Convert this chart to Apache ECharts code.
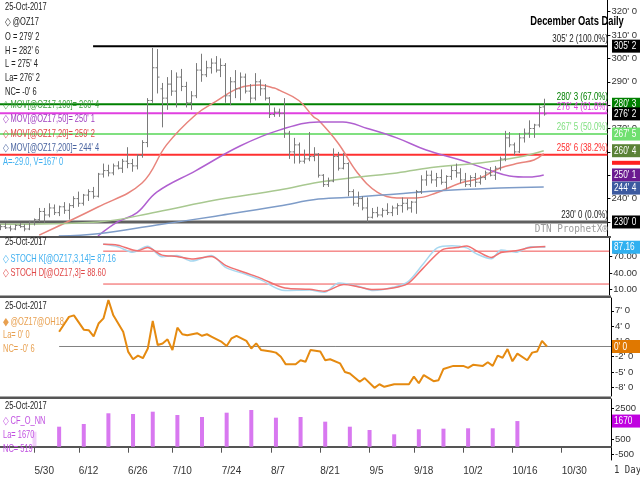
<!DOCTYPE html>
<html>
<head>
<meta charset="utf-8">
<script src="https://cdn.jsdelivr.net/npm/echarts@6/dist/echarts.min.js"></script>
<style>html,body{margin:0;padding:0;background:#fff}#main{width:640px;height:480px}</style>
</head>
<body>
<div id="main"></div>
<script>
// trading days, 5/18 onward (holidays skipped)
var holidays = ['5/29', '7/4', '9/4'];
var dates = [];
var d = new Date(2017, 4, 18);
while (dates.length < 125) {
    var s = (d.getMonth() + 1) + '/' + d.getDate();
    if (d.getDay() > 0 && d.getDay() < 6 && holidays.indexOf(s) < 0) dates.push(s);
    d.setDate(d.getDate() + 1);
}
var dateLabels = ['5/30', '6/12', '6/26', '7/10', '7/24', '8/7', '8/21', '9/5', '9/18', '10/2', '10/16', '10/30'];

// [open, high, low, close]
var priceBars = [
    [227.5,229,226.5,228],[228,229.5,227,227.5],[227.5,228.5,226,227],[227,229,226.5,228.5],
    [228.5,229.5,227.5,228],[228,229,226,227],[227,230.5,226.5,230],[230,231.5,228.5,231],
    [231,236,230,234.5],[234.5,236,229.5,233],[233,238,232,236],[236,237.5,233,234],
    [234,237,232.5,236.5],[236.5,238.5,233.5,235],[235,238,231,237],[237,241,236,240],
    [240,243,236.5,238],[238,242,237,241.5],[241.5,244,239,243],[243,245,240,241],
    [241,251,240.5,250.5],[250.5,255,249,252],[252,254.5,249.5,251],[251,255,250,254],
    [254,256,252.5,253],[253,257,251,256],[256,262,253,255],[255,257,251.5,254],
    [254,259,252.5,258.5],[258.5,265,257.5,264],[264,283,262,282],[282,304.5,281,296],
    [296,304,285,292],[287,289.5,270.5,283],[283,292,278,289],[289,295,284,286],
    [286,294,279,292],[292,295.5,286,288],[288,290,279,281],[281,286,278,284],
    [284,298,283,295],[295,302,290,293],[293,299,292,296],[296,300,293.5,298],
    [298,301,294,295],[295,300,292,297],[297,298,281,284],[284,292,280,290],
    [290,295,283,287],[287,294,282,292],[292,293.5,285,286],[286,289,281,283],
    [283,293.7,282,290],[290,291,284,287],[287,289,282,283],[283,283.5,274.5,276],
    [276,279,275,277],[277,278.5,275,276.5],[276.5,283,266,268],[268,269,257,260],
    [260,266,255,263],[263,264,255,256],[256,261,255,257],[257,268.5,256,258],
    [258,262,256,259],[259,259.5,249,250],[250,250.5,245,246],[246,249,245,247.5],
    [247.5,261.5,247,258],[258,260,252,253],[253,259.5,252.5,255],[255,255.5,241,243],
    [243,244,237,238],[238,243,236.5,240],[240,241,235,236],[236,240.5,230,232],
    [232,236,231.5,234],[234,236.5,232,233],[233,236,232,235],[235,238,233,234],
    [234,237,232.5,236],[236,238,233,237],[237,240.5,234,238],[238,240,235,236],
    [236,239,234,238.5],[238.5,243.7,233.5,243],[243,250,242,248],[248,252,245.5,250],
    [250,252,246.5,248],[248,251,245,249],[249,252.5,246,247],[247,250,244,249.5],
    [249.5,254,248,252],[252,255,249,251],[251,253,246.5,248],[248,251,245,246],
    [246,250,245,249],[249,251,245,247],[247,250,246,249],[249,252,248,251],
    [251,253.5,249.5,250],[250,254,248,253],[253,258,252,257],[257,269,256,266],
    [266,268.5,262,263],[263,264,258.5,260],[260,268,259.5,266],[266,270,264,268],
    [268,273.5,266,270],[270,272,266,271.5],[271.5,280,270.5,279],[279.25,282.75,275.5,276.25]
];

// moving averages: [day index, value]
var ma20 = [[8,224.4],[20,236.4],[29,246.7],[34,263],[40,276],[44,281.5],[49,287.5],[53,288.6],[56,287.3],[57,286.4],[61,282],[64,275],[65,273.6],[69,263.8],[73,251],[77,242.8],[81,240.3],[85,240.3],[89,242.4],[94,246.7],[98,248.8],[102,253],[106,255.2],[109,256.5],[111,259.25]];
var ma50 = [[20,224],[24,230],[28,234],[32,242.8],[40,252],[49,262.5],[57,269.3],[65,272.8],[70,272.8],[75,270],[81,266],[87,260.8],[94,256.5],[100,252.2],[104,249.7],[108,249.2],[111,250.1]];
var ma100 = [[0,229],[20,230],[32,234.3],[44,239.4],[57,243.7],[65,247],[73,249.2],[81,251],[89,253.5],[98,255.2],[106,257.8],[111,260.5]];
var ma200 = [[12,224],[20,225],[32,228.7],[44,232.5],[57,236.8],[65,239.8],[73,240.7],[81,242],[89,243.3],[102,244.5],[111,245]];

var stochK = [[21,93],[24,88],[27,78],[30,89],[33,70],[36,72],[39,62],[43,72],[46,50],[50,38],[53,28],[58,8],[63,9],[66,5],[69,22],[73,16],[76,8],[80,14],[83,24],[86,55],[89,86],[92,90],[95,86],[97,75],[100,66],[102,82],[105,78],[108,88],[111,87.16]];
var stochD = [[21,92.6],[24,90.8],[28,80.6],[30,86.5],[33,72.8],[36,70.3],[39,65.7],[43,70.3],[46,53.6],[50,40.5],[53,30.8],[58,12.9],[63,10.5],[66,7],[70,19],[73,14.7],[76,10],[80,12.9],[83,20.8],[86,47.7],[90,82.4],[93,86.5],[95,89.5],[97,80.6],[100,68.5],[102,77.5],[105,80.6],[108,86.5],[111,88.6]];

var spread = [[12,2.9],[14,5.8],[15,6.1],[17,3.3],[18,3.2],[19,2.0],[20,4.5],[21,5.5],[22,9.1],[23,6.1],[25,2.9],[26,-1.0],[27,-2.5],[28,-1.8],[29,-2.3],[30,-0.4],[31,5.0],[32,0.3],[33,0.6],[34,1.4],[35,-0.7],[36,3.7],[37,2.4],[38,2.2],[40,2.6],[41,2.1],[42,2.4],[43,1.9],[45,0.9],[46,0.1],[47,1.6],[48,2.1],[50,1.1],[51,-0.4],[52,0.6],[53,-0.7],[55,-1.0],[56,-1.2],[57,-2.0],[58,-3.5],[60,-3.5],[61,-2.7],[62,-3.0],[63,-0.7],[65,-1.0],[66,-2.7],[67,-2.5],[69,-3.3],[70,-5.0],[71,-5.3],[73,-6.9],[74,-6.2],[76,-8.1],[77,-7.4],[78,-7.9],[80,-7.4],[83,-7.4],[84,-5.9],[85,-7.2],[86,-5.6],[88,-6.8],[89,-6.6],[90,-4.4],[92,-3.8],[94,-3.8],[95,-4.2],[96,-3.6],[98,-3.8],[99,-3.1],[100,-3.8],[101,-1.8],[102,-2.2],[103,-0.5],[104,-2.9],[105,-1.4],[107,-2.7],[108,-1.2],[109,-1.0],[110,1.1],[111,0]];

var cot = [[7,977],[12,1303],[17,1479],[22,2176],[27,2130],[31,2280],[36,2065],[41,1935],[46,2215],[51,2390],[56,1890],[61,1935],[66,1630],[71,1303],[75,1088],[80,808],[85,1134],[90,1173],[95,1199],[100,1199],[105,1670]];

// fib retracement levels
var fibLevels = [305.25, 280.375, 276.5, 267.625, 258.75, 230];
var fibPct = ['100.0%', '67.0%', '61.8%', '50.0%', '38.2%', '0.0%'];
var fibColors = ['#000000', '#008000', '#e040e0', '#80e080', '#ff3030', '#606060'];

function eighths(v) {
    var neg = v < 0;
    v = Math.abs(v);
    var w = Math.floor(v + 1e-9);
    var e = Math.round((v - w) * 8);
    if (e === 8) { w += 1; e = 0; }
    return (neg ? '-' : '') + w + "' " + e;
}

var FONT = '"Liberation Sans"';
var chart = echarts.init(document.getElementById('main'));
var grids = [
    {left: 0, right: 29, top: 0, height: 236},
    {left: 0, right: 29, top: 238, height: 57},
    {left: 0, right: 29, top: 298, height: 98},
    {left: 0, right: 29, top: 399, height: 61}
];
var xAxes = grids.map(function (g, k) {
    var last = k === 3;
    return {
        type: 'category', gridIndex: k, data: dates, boundaryGap: false,
        axisLine: {show: last, lineStyle: {color: '#555', width: 2}},
        axisTick: {show: last, length: 6, lineStyle: {color: '#555'},
            interval: function (i, v) { return dateLabels.indexOf(v) >= 0; }},
        axisLabel: {show: last, align: 'left', margin: 6, color: '#333', fontFamily: FONT, fontSize: 10,
            interval: function (i, v) { return dateLabels.indexOf(v) >= 0; }},
        splitLine: {show: false}
    };
});
function yAx(k, min, max, vals, fmt) {
    return {
        type: 'value', gridIndex: k, position: 'right', min: min, max: max, scale: true,
        axisLine: {show: true, lineStyle: {color: '#000'}},
        axisTick: {show: true, length: 3, customValues: vals, lineStyle: {color: '#000'}},
        axisLabel: {customValues: vals, formatter: fmt, color: '#333', fontFamily: FONT, fontSize: 9.5, margin: 4},
        splitLine: {show: false}
    };
}
var yAxes = [
    yAx(0, 224, 325, [230, 240, 250, 260, 270, 280, 290, 300, 310, 320], function (v) { return v + "' 0"; }),
    yAx(1, 0, 104, [10, 40, 70], function (v) { return v.toFixed(2); }),
    yAx(2, -9.7, 9.5, [-8, -5, -2, 1, 4, 7], function (v) { return v + "' 0"; }),
    yAx(3, -865, 3106, [-500, 500, 1500, 2500], function (v) { return String(v); })
];

function hline(level, color, width, from) {
    return {
        type: 'line', xAxisIndex: 0, yAxisIndex: 0, symbol: 'none', silent: true,
        data: [[from, level], [124, level]], lineStyle: {color: color, width: width}, z: 1
    };
}

var series = [];
fibLevels.forEach(function (lv, k) {
    series.push(hline(lv, fibColors[k], k === 5 ? 3 : 2, k === 0 ? 19 : 0));
});
series.push({
    type: 'custom', xAxisIndex: 0, yAxisIndex: 0, z: 5,
    data: priceBars.map(function (b, i) { return [i, b[0], b[1], b[2], b[3]]; }),
    encode: {x: 0, y: [2, 3]},
    renderItem: function (params, api) {
        var x = api.value(0);
        var o = api.coord([x, api.value(1)]), h = api.coord([x, api.value(2)]);
        var l = api.coord([x, api.value(3)]), c = api.coord([x, api.value(4)]);
        var px = Math.round(h[0]) + 0.5;
        var st = {stroke: '#7a7a7a', lineWidth: 1};
        return {type: 'group', children: [
            {type: 'line', shape: {x1: px, y1: h[1], x2: px, y2: l[1]}, style: st},
            {type: 'line', shape: {x1: px - 2, y1: o[1], x2: px, y2: o[1]}, style: st},
            {type: 'line', shape: {x1: px, y1: c[1], x2: px + 2, y2: c[1]}, style: st}
        ]};
    }
});
[[ma20, '#e8847c'], [ma50, '#b060d0'], [ma100, '#a8c890'], [ma200, '#7e9cc8']].forEach(function (m) {
    series.push({type: 'line', xAxisIndex: 0, yAxisIndex: 0, data: m[0], smooth: 0.4, symbol: 'none',
        lineStyle: {color: m[1], width: 1.5}, z: 3});
});
series.push({type: 'line', xAxisIndex: 1, yAxisIndex: 1, data: [[21, 80], [124, 80]], symbol: 'none', lineStyle: {color: '#f05050', width: 1}});
series.push({type: 'line', xAxisIndex: 1, yAxisIndex: 1, data: [[21, 20], [124, 20]], symbol: 'none', lineStyle: {color: '#f05050', width: 1}});
series.push({type: 'line', xAxisIndex: 1, yAxisIndex: 1, data: stochK, smooth: 0.3, symbol: 'none', lineStyle: {color: '#a8d8f0', width: 1.5}});
series.push({type: 'line', xAxisIndex: 1, yAxisIndex: 1, data: stochD, smooth: 0.3, symbol: 'none', lineStyle: {color: '#f07070', width: 1.5}});
series.push({type: 'line', xAxisIndex: 2, yAxisIndex: 2, data: [[12, 0], [124, 0]], symbol: 'none', lineStyle: {color: '#808080', width: 1}});
series.push({type: 'line', xAxisIndex: 2, yAxisIndex: 2, data: spread, symbol: 'none', lineStyle: {color: '#e58a10', width: 2}});
series.push({type: 'bar', xAxisIndex: 3, yAxisIndex: 3, barWidth: 4,
    data: cot.map(function (p, k) { return {value: p, itemStyle: {opacity: k === 0 ? 0.35 : 1}}; }),
    itemStyle: {color: '#d878f0'}});

// text squeezed horizontally to mimic the condensed chart font
function txt(x, y, s, color, extra, sx) {
    var st = {text: s, x: 0, y: 0, fill: color || '#222', font: '11px ' + FONT, textVerticalAlign: 'middle'};
    if (extra) for (var k in extra) st[k] = extra[k];
    return {type: 'text', x: x, y: y, scaleX: sx || 0.68, style: st, z: 50};
}
var green = '#40a040', purple = '#a040c0', red = '#e04848', blue = '#4a64a0', sky = '#40b0f0', orange = '#e8a050';
var g = [
    {type: 'rect', shape: {x: 0, y: 236, width: 611, height: 2}, style: {fill: '#555'}, z: 40},
    {type: 'rect', shape: {x: 0, y: 295.5, width: 611, height: 2.5}, style: {fill: '#555'}, z: 40},
    {type: 'rect', shape: {x: 0, y: 396.5, width: 611, height: 2.5}, style: {fill: '#555'}, z: 40},
    txt(5, 7, '25-Oct-2017'), txt(5, 22, '◇ @OZ17'), txt(5, 37, "O = 279' 2"), txt(5, 51, "H = 282' 6"),
    txt(5, 64, "L = 275' 4"), txt(5, 78, "La= 276' 2"), txt(5, 92, "NC= -0' 6"),
    txt(3, 105, "◇ MOV[@OZ17,100]= 260' 4", green), txt(3, 119, "◇ MOV[@OZ17,50]= 250' 1", purple),
    txt(3, 134, "◇ MOV[@OZ17,20]= 259' 2", red), txt(3, 148, "◇ MOV[@OZ17,200]= 244' 4", blue),
    txt(3, 162, 'A=-29.0, V=167\' 0', sky),
    txt(577, 22, 'December Oats Daily', '#000', {font: 'bold 12px ' + FONT, textAlign: 'center'}, 0.78),
    txt(5, 242, '25-Oct-2017'), txt(3, 259, '◇ STOCH K[@OZ17,3,14]= 87.16', sky), txt(3, 273, '◇ STOCH D[@OZ17,3]= 88.60', red),
    txt(5, 306, '25-Oct-2017'), txt(3, 322, '◆ @OZ17@OH18', orange), txt(3, 335, "La= 0' 0", orange), txt(3, 349, "NC= -0' 6", orange),
    txt(5, 406, '25-Oct-2017'), txt(3, 421, '◇ CF_O_NN', '#c050e0'), txt(3, 435, 'La= 1670', '#c050e0'), txt(3, 449, 'NC= 519', '#c050e0'),
    txt(614, 470, '1 Day', '#333', {font: '10px "DejaVu Sans Mono"'}, 0.9),
    txt(608, 229, 'DTN ProphetX®', '#999', {font: '11px "DejaVu Sans Mono"', textAlign: 'right'}, 0.85)
];

chart.setOption({animation: false, grid: grids, xAxis: xAxes, yAxis: yAxes, series: series, graphic: g});

// fib labels and right-hand value tags, placed through the axes
fibLevels.forEach(function (lv, k) {
    var y = chart.convertToPixel({yAxisIndex: 0}, lv);
    var ty = k === 2 ? y - 6 : y - 7;
    g.push(txt(608, ty, eighths(lv) + ' (' + fibPct[k] + ')',
        k === 0 || k === 5 ? '#222' : fibColors[k], {textAlign: 'right', font: '11px ' + FONT}, 0.72));
});
var tags = [
    [0, 305.25, '#000'], [0, 280.375, '#008000'], [0, 276.25, '#000'], [0, 267.625, '#70e070'],
    [0, 258.75, '#ff2020'], [0, 260.5, '#5a8236'], [0, 250.125, '#6a1a90'], [0, 244.5, '#3c5aa0'], [0, 230, '#000'],
    [1, 87.16, '#30b0f0', '87.16'], [2, 0, '#e07800', "0' 0"], [3, 1670, '#c000e0', '1670']
];
tags.forEach(function (t) {
    var y = chart.convertToPixel({yAxisIndex: t[0]}, t[1]);
    var label = t[3] || eighths(t[1]);
    var h = t[1] === 258.75 ? 4 : 13;
    var yy = t[1] === 258.75 ? y + 6 : y - 6.5;
    g.push({type: 'rect', shape: {x: 612, y: yy, width: 28, height: h}, style: {fill: t[2]}, z: 60});
    if (h > 5) {
        var tt = txt(614, y, label, '#fff', {font: '11px ' + FONT}, 0.75);
        tt.z = 61;
        g.push(tt);
    }
});
chart.setOption({graphic: g});
</script>
</body>
</html>
